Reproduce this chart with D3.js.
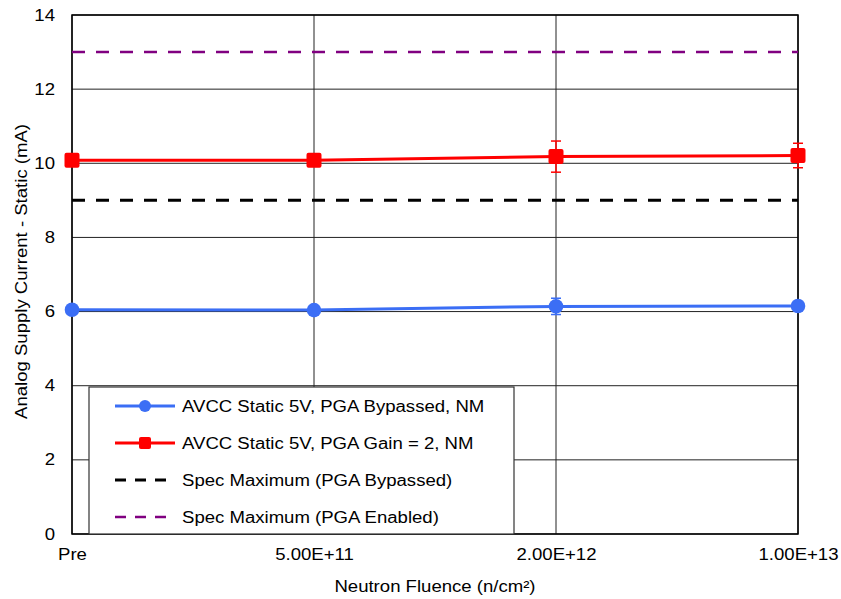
<!DOCTYPE html>
<html>
<head>
<meta charset="utf-8">
<script src="https://cdn.jsdelivr.net/npm/d3@7"></script>
<style>
  body { margin: 0; background: #fff; }
  text { font-family: "Liberation Sans", Arial, sans-serif; fill: #000; }
</style>
</head>
<body>
<div id="chart"></div>
<script>
// category labels (neutron fluence)
var categories = ['Pre', '5.00E+11', '2.00E+12', '1.00E+13'];
var y_ticks = [0, 2, 4, 6, 8, 10, 12, 14];

// measured values (mA)
var bypassed_values = [6.05, 6.04, 6.14, 6.15];
var bypassed_err = [0.03, 0.03, 0.22, 0.06];
var gain2_values = [10.08, 10.08, 10.18, 10.21];
var gain2_err = [0.04, 0.04, 0.42, 0.33];

// spec limits
var spec_bypassed = 9;
var spec_enabled = 13;

var legend_labels = [
  'AVCC Static 5V, PGA Bypassed, NM',
  'AVCC Static 5V, PGA Gain = 2, NM',
  'Spec Maximum (PGA Bypassed)',
  'Spec Maximum (PGA Enabled)'
];

var blue_color = '#3b6ef5';
var red_color = '#ff0000';
var purple_color = '#800080';

var font_size = '16px';
var stretch = 1.16;   // reference text is a bit wide

var W = 841, H = 599;
var margin = {top: 15, right: 43, bottom: 65, left: 72};
var width = W - margin.left - margin.right,
    height = H - margin.top - margin.bottom;

// widen text horizontally to match the reference
function widen(sel) {
  sel.each(function(){
    var len = this.getComputedTextLength();
    d3.select(this)
      .attr('textLength', len * stretch)
      .attr('lengthAdjust', 'spacingAndGlyphs');
  });
}

var svg = d3.select('#chart').append('svg')
  .attr('width', W)
  .attr('height', H);

var g = svg.append('g')
  .attr('transform', 'translate(' + margin.left + ',' + margin.top + ')');

var x = d3.scalePoint().domain(categories).range([0, width]).padding(0);
var y = d3.scaleLinear().domain([0, 14]).range([height, 0]);

// grid lines
g.append('g').selectAll('line')
  .data(y_ticks)
  .enter().append('line')
  .attr('x1', 0).attr('x2', width)
  .attr('y1', function(d){ return y(d); })
  .attr('y2', function(d){ return y(d); })
  .style('stroke', '#222')
  .style('stroke-width', 1);

g.append('g').selectAll('line')
  .data(categories)
  .enter().append('line')
  .attr('x1', function(d){ return x(d); })
  .attr('x2', function(d){ return x(d); })
  .attr('y1', 0).attr('y2', height)
  .style('stroke', '#222')
  .style('stroke-width', 1);

// frame
g.append('rect')
  .attr('width', width).attr('height', height)
  .style('fill', 'none')
  .style('stroke', '#000')
  .style('stroke-width', 1.5);

// spec lines
function spec_line(val, color, w) {
  g.append('line')
    .attr('x1', 0).attr('x2', width)
    .attr('y1', y(val)).attr('y2', y(val))
    .style('stroke', color)
    .style('stroke-width', w)
    .style('stroke-dasharray', '13,11');
}
spec_line(spec_bypassed, '#000', 3);
spec_line(spec_enabled, purple_color, 2.5);

// series
function draw_series(values, errs, color, marker) {
  var pts = values.map(function(v, i){ return {c: categories[i], v: v, e: errs[i]}; });
  var line = d3.line()
    .x(function(d){ return x(d.c); })
    .y(function(d){ return y(d.v); });

  g.append('path')
    .datum(pts)
    .attr('d', line)
    .style('fill', 'none')
    .style('stroke', color)
    .style('stroke-width', 3);

  var eb = g.append('g');
  pts.forEach(function(d){
    var cx = x(d.c);
    eb.append('line')
      .attr('x1', cx).attr('x2', cx)
      .attr('y1', y(d.v + d.e)).attr('y2', y(d.v - d.e))
      .style('stroke', color).style('stroke-width', 1.5);
    [d.v + d.e, d.v - d.e].forEach(function(t){
      eb.append('line')
        .attr('x1', cx - 5).attr('x2', cx + 5)
        .attr('y1', y(t)).attr('y2', y(t))
        .style('stroke', color).style('stroke-width', 1.5);
    });
  });

  if (marker == 'circle') {
    g.selectAll(null).data(pts).enter().append('circle')
      .attr('cx', function(d){ return x(d.c); })
      .attr('cy', function(d){ return y(d.v); })
      .attr('r', 7.3)
      .style('fill', color);
  } else {
    g.selectAll(null).data(pts).enter().append('rect')
      .attr('x', function(d){ return x(d.c) - 7.5; })
      .attr('y', function(d){ return y(d.v) - 7.5; })
      .attr('width', 15).attr('height', 15)
      .attr('rx', 2)
      .style('fill', color);
  }
}
draw_series(bypassed_values, bypassed_err, blue_color, 'circle');
draw_series(gain2_values, gain2_err, red_color, 'square');

// axes tick labels
var yAxis = g.append('g')
  .call(d3.axisLeft(y).tickValues(y_ticks).tickSize(0).tickPadding(17));
yAxis.select('.domain').remove();
yAxis.selectAll('text')
  .attr('font-size', null)
  .style('font-size', font_size)
  .style('font-family', '"Liberation Sans", Arial, sans-serif')
  .call(widen);

var xAxis = g.append('g')
  .attr('transform', 'translate(0,' + height + ')')
  .call(d3.axisBottom(x).tickSize(0).tickPadding(15));
xAxis.select('.domain').remove();
xAxis.selectAll('text')
  .style('font-size', font_size)
  .style('font-family', '"Liberation Sans", Arial, sans-serif')
  .call(widen);

// axis titles
svg.append('text')
  .attr('x', margin.left + width / 2)
  .attr('y', 592)
  .attr('text-anchor', 'middle')
  .style('font-size', font_size)
  .text('Neutron Fluence (n/cm²)')
  .call(widen);

svg.append('text')
  .attr('transform', 'translate(27,' + (margin.top + height / 2 - 3) + ') rotate(-90)')
  .attr('text-anchor', 'middle')
  .style('font-size', font_size)
  .text('Analog Supply Current - Static (mA)')
  .call(widen);

// legend
var legend = svg.append('g')
  .attr('transform', 'translate(89,387)');

legend.append('rect')
  .attr('width', 425).attr('height', 147)
  .style('fill', '#fff')
  .style('stroke', '#333')
  .style('stroke-width', 1.2);

var legend_styles = [
  {color: blue_color, dash: null, marker: 'circle', w: 3},
  {color: red_color, dash: null, marker: 'square', w: 3},
  {color: '#000', dash: '11,9', marker: null, w: 3},
  {color: purple_color, dash: '11,9', marker: null, w: 2.5}
];

legend_labels.forEach(function(lbl, i){
  var ly = 19 + i * 37;
  var s = legend_styles[i];
  legend.append('line')
    .attr('x1', 26).attr('x2', 86)
    .attr('y1', ly).attr('y2', ly)
    .style('stroke', s.color)
    .style('stroke-width', s.w)
    .style('stroke-dasharray', s.dash);
  if (s.marker == 'circle') {
    legend.append('circle').attr('cx', 56).attr('cy', ly).attr('r', 6).style('fill', s.color);
  } else if (s.marker == 'square') {
    legend.append('rect').attr('x', 50).attr('y', ly - 6).attr('width', 12).attr('height', 12)
      .attr('rx', 2).style('fill', s.color);
  }
  legend.append('text')
    .attr('x', 93).attr('y', ly + 6)
    .style('font-size', font_size)
    .text(lbl)
    .call(widen);
});
</script>
</body>
</html>
